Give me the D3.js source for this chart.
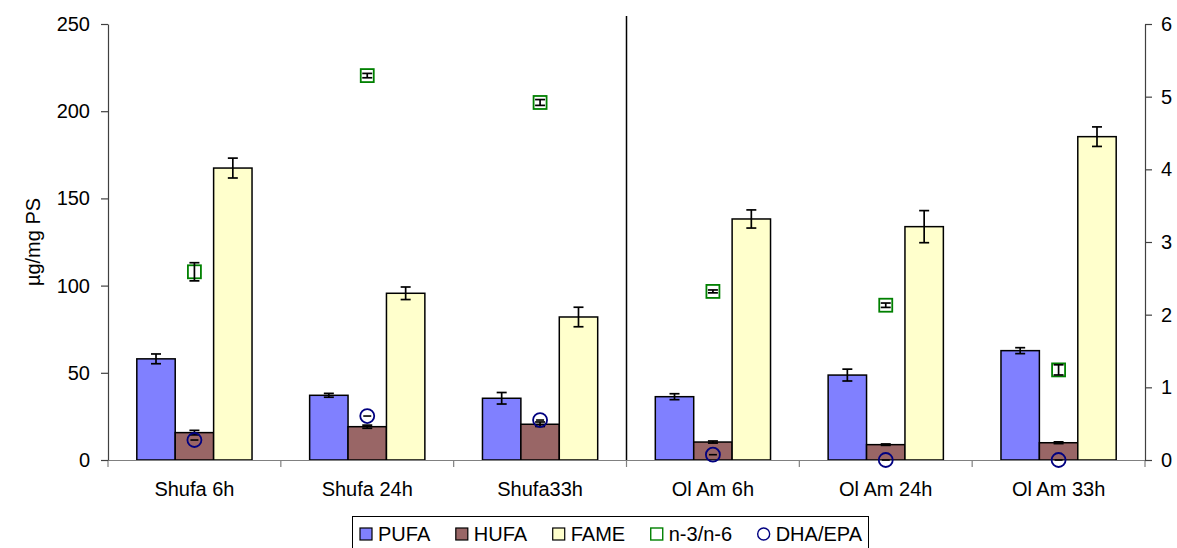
<!DOCTYPE html>
<html><head><meta charset="utf-8">
<script src="https://cdn.jsdelivr.net/npm/d3@7"></script>
<style>body{margin:0;background:#fff}svg{display:block}text{font-family:"Liberation Sans",Arial,sans-serif}</style>
</head><body><svg id="c" width="1177" height="548"></svg>
<script>
const categories = ["Shufa 6h","Shufa 24h","Shufa33h","Ol Am 6h","Ol Am 24h","Ol Am 33h"];
const pufa = [58, 37.1, 35.4, 36.3, 48.7, 62.7];
const pufaErr = [2.8, 1.1, 3.3, 1.7, 3.4, 1.7];
const hufa = [15.7, 19.1, 20.5, 10.3, 8.8, 9.9];
const hufaErr = [1.3, 0.9, 1.3, 0.6, 0.4, 0.5];
const fame = [167.4, 95.6, 82, 138.2, 133.8, 185.4];
const fameErr = [5.7, 3.6, 5.6, 5.2, 9.2, 5.6];
const n3n6 = [2.59, 5.29, 4.92, 2.32, 2.13, 1.24];
const n3n6Err = [0.125, 0.03, 0.04, 0.02, 0.03, 0.07];
const dhaEpa = [0.275, 0.605, 0.55, 0.073, 0.0, 0.0];
const leftTicks = [0, 50, 100, 150, 200, 250];
const rightTicks = [0, 1, 2, 3, 4, 5, 6];
const barSeries = [
  {name:"PUFA", values:pufa, err:pufaErr, color:"#8080FF"},
  {name:"HUFA", values:hufa, err:hufaErr, color:"#996666"},
  {name:"FAME", values:fame, err:fameErr, color:"#FFFFCC"}
];

const svg = d3.select("#c");
const L = 108, R = 1145, T = 24, B = 460;
const x = d3.scaleBand().domain(categories).range([L, R]);
const bw = x.bandwidth() / 4.5;
const xs = d3.scaleBand().domain(barSeries.map(d=>d.name)).range([0, bw*3]);
const yL = d3.scaleLinear().domain([0, 250]).range([B, T]);
const yR = d3.scaleLinear().domain([0, 6]).range([B, T]);
const fs = 20;
const FF = '"Liberation Sans",Arial,sans-serif';

barSeries.forEach(s => {
  const g = svg.append("g");
  categories.forEach((c, i) => {
    const x0 = x(c) + x.bandwidth()/2 - bw*1.5 + xs(s.name);
    g.append("rect").attr("x", x0).attr("y", yL(s.values[i]))
      .attr("width", bw).attr("height", yL(0) - yL(s.values[i]))
      .attr("fill", s.color).attr("stroke", "#000").attr("stroke-width", 1.5);
  });
});
function errBar(cx, y1, y2) {
  const g = svg.append("g").attr("stroke", "#000").attr("stroke-width", 1.7);
  g.append("line").attr("x1", cx).attr("x2", cx).attr("y1", y1).attr("y2", y2);
  g.append("line").attr("x1", cx-5).attr("x2", cx+5).attr("y1", y1).attr("y2", y1);
  g.append("line").attr("x1", cx-5).attr("x2", cx+5).attr("y1", y2).attr("y2", y2);
}
barSeries.forEach(s => {
  categories.forEach((c, i) => {
    const cx = x(c) + x.bandwidth()/2 - bw*1.5 + xs(s.name) + bw/2;
    errBar(cx, yL(s.values[i] + s.err[i]), yL(s.values[i] - s.err[i]));
  });
});

svg.append("g").attr("transform", `translate(0,${B})`)
  .call(d3.axisBottom(x).tickSize(0).tickPadding(22))
  .call(g => g.select(".domain").attr("stroke", "#808080").attr("stroke-width", 1.2))
  .call(g => g.selectAll("text").attr("font-size", fs).attr("fill", "#000").attr("font-family", FF));
const bounds = categories.map(c => x(c)).concat([R]);
svg.append("g").selectAll("line").data(bounds).join("line")
  .attr("x1", d=>d).attr("x2", d=>d).attr("y1", B).attr("y2", B+7)
  .attr("stroke", "#808080").attr("stroke-width", 1.2);

svg.append("g").attr("transform", `translate(${L},0)`)
  .call(d3.axisLeft(yL).tickValues(leftTicks).tickSize(7).tickPadding(11).tickSizeOuter(0).tickFormat(d3.format("d")))
  .call(g => g.selectAll("line,path").attr("stroke", "#404040").attr("stroke-width", 1.2))
  .call(g => g.selectAll("text").attr("font-size", fs).attr("fill", "#000").attr("font-family", FF));
svg.append("g").attr("transform", `translate(${R},0)`)
  .call(d3.axisRight(yR).tickValues(rightTicks).tickSize(7).tickPadding(9).tickSizeOuter(0).tickFormat(d3.format("d")))
  .call(g => g.selectAll("line,path").attr("stroke", "#404040").attr("stroke-width", 1.2))
  .call(g => g.selectAll("text").attr("font-size", fs).attr("fill", "#000").attr("font-family", FF));

svg.append("line").attr("x1", x(categories[3])).attr("x2", x(categories[3]))
  .attr("y1", 16).attr("y2", B).attr("stroke", "#000").attr("stroke-width", 1.5);

svg.append("text").attr("transform", `translate(40,242) rotate(-90)`)
  .attr("text-anchor", "middle").attr("font-size", fs).text("µg/mg PS");

categories.forEach((c, i) => {
  const cx = x(c) + x.bandwidth()/2;
  const cy = yR(n3n6[i]);
  svg.append("rect").attr("x", cx-6.5).attr("y", cy-6.5).attr("width", 13).attr("height", 13)
    .attr("fill", "#fff").attr("stroke", "#008000").attr("stroke-width", 1.8);
  errBar(cx, yR(n3n6[i] + n3n6Err[i]), yR(n3n6[i] - n3n6Err[i]));
});
categories.forEach((c, i) => {
  const cx = x(c) + x.bandwidth()/2;
  const cy = yR(dhaEpa[i]);
  svg.append("line").attr("x1", cx-4).attr("x2", cx+4).attr("y1", cy).attr("y2", cy)
    .attr("stroke", "#000").attr("stroke-width", 1.6);
  svg.append("circle").attr("cx", cx).attr("cy", cy).attr("r", 7)
    .attr("fill", "none").attr("stroke", "#000080").attr("stroke-width", 1.8);
});

// legend
const lg = svg.append("g");
lg.append("rect").attr("x", 352.5).attr("y", 516.5).attr("width", 516).attr("height", 40)
  .attr("fill", "#fff").attr("stroke", "#000").attr("stroke-width", 1);
const items = [
  {name:"PUFA", type:"bar", color:"#8080FF"},
  {name:"HUFA", type:"bar", color:"#996666"},
  {name:"FAME", type:"bar", color:"#FFFFCC"},
  {name:"n-3/n-6", type:"sq", color:"#008000"},
  {name:"DHA/EPA", type:"ci", color:"#000080"}
];
const cy = 534;
const texts = items.map(it => lg.append("text").attr("y", cy+7).attr("font-size", fs).text(it.name));
const widths = texts.map(t => t.node().getComputedTextLength());
const x0 = 360, x1 = 862;
const gap = (x1 - x0 - d3.sum(widths) - items.length*18) / (items.length - 1);
let cur = x0;
items.forEach((it, i) => {
  if (it.type === "bar") {
    lg.append("rect").attr("x", cur).attr("y", cy-6).attr("width", 12).attr("height", 12)
      .attr("fill", it.color).attr("stroke", "#000").attr("stroke-width", 1.2);
  } else if (it.type === "sq") {
    lg.append("rect").attr("x", cur).attr("y", cy-6).attr("width", 12).attr("height", 12)
      .attr("fill", "none").attr("stroke", it.color).attr("stroke-width", 1.4);
  } else {
    lg.append("circle").attr("cx", cur+6).attr("cy", cy).attr("r", 6)
      .attr("fill", "none").attr("stroke", it.color).attr("stroke-width", 1.4);
  }
  texts[i].attr("x", cur+18);
  cur = cur + 18 + widths[i] + gap;
});
</script></body></html>
